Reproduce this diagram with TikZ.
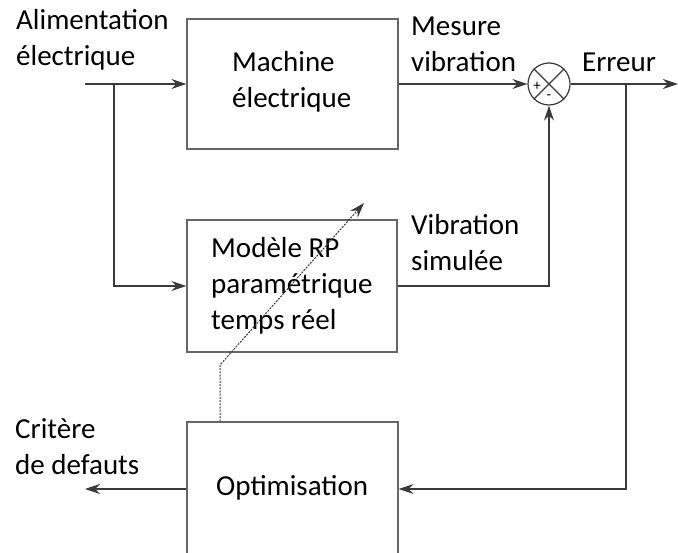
\documentclass[tikz,border=0pt]{standalone}
\usepackage{fontspec}
\setmainfont{Carlito}
\usetikzlibrary{arrows.meta}
\definecolor{boxc}{HTML}{666666}
\definecolor{linec}{HTML}{3A3A3A}
\begin{document}
\begin{tikzpicture}[x=1pt,y=-1pt,
  box/.style={draw=boxc,line width=1.3pt,rectangle,inner sep=0pt},
  lbl/.style={anchor=base west,inner sep=0pt,align=left,font=\fontsize{29}{36}\selectfont},
  tip/.style={-{Stealth[length=15pt,width=10pt,inset=5pt]}},
  arr/.style={draw=linec,line width=1.2pt,tip},
  wire/.style={draw=linec,line width=1.2pt},
  sumc/.style={draw=linec,line width=1.2pt,circle,minimum size=42pt,inner sep=0pt},
  sgn/.style={inner sep=0pt,font=\fontsize{15}{15}\selectfont}]
\clip (0,0) rectangle (678,553);
\fill[white] (0,0) rectangle (678,553);
% boxes
\node[box,minimum width=211pt,minimum height=130pt] (mach) at (292.5,84) {};
\node[box,minimum width=210pt,minimum height=132pt] (mod) at (292,286) {};
\node[box,minimum width=211pt,minimum height=134pt] (opt) at (292.5,489) {};
\node[sumc] (sum) at (549,84) {};
\draw[wire] (sum.north west) -- (sum.south east);
\draw[wire] (sum.north east) -- (sum.south west);
\node[sgn] (plus) at (537,86) {+};
\node[sgn] (minus) at (549,97) {-};
% texts (anchor = baseline of last line)
\node[lbl] (t1) at (16,66) {Alimentation\\électrique};
\node[lbl] (t2) at (232,108) {Machine\\électrique};
\node[lbl] (t3) at (411,72) {Mesure\\vibration};
\node[lbl] (t4) at (582,72) {Erreur};
\node[lbl] (t5) at (211,330) {Modèle RP\\paramétrique\\temps réel};
\node[lbl] (t6) at (411,271) {Vibration\\simulée};
\node[lbl] (t7) at (15,475) {Critère\\de defauts};
\node[lbl] (t8) at (216,495) {Optimisation};
% coordinates
\coordinate (in) at (85,84);
\coordinate (split) at (114,84);
\coordinate (out) at (678,84);
\coordinate (br) at (626,84);
\coordinate (crit) at (85,489);
\coordinate (dk) at (220,365);
\coordinate (dend) at (364,203);
% connectors
\draw[arr] (in) -- (mach.west);
\draw[arr] (split) |- (mod.west);
\draw[arr] (mach.east) -- (sum.west);
\draw[arr] (mod.east) -| (sum.south);
\draw[arr] (sum.east) -- (out);
\draw[arr] (br) |- (opt.east);
\draw[arr] (opt.west) -- (crit);
\draw[draw=linec,line width=1pt,dash pattern=on 2pt off 1.2pt,tip] (dk |- opt.north) -- (dk) -- (dend);
\end{tikzpicture}
\end{document}
